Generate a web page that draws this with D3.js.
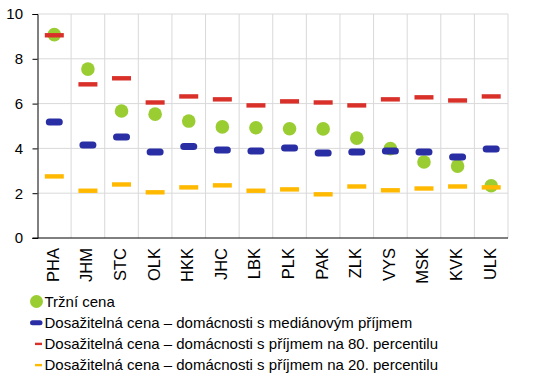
<!DOCTYPE html>
<html>
<head>
<meta charset="utf-8">
<script src="https://cdn.jsdelivr.net/npm/d3@7"></script>
<style>
  body { margin: 0; background: #fff; }
  svg { font-family: Arial, "Liberation Sans", sans-serif; }
</style>
</head>
<body>
<svg width="540" height="379"></svg>
<script>
const regions = ["PHA", "JHM", "STC", "OLK", "HKK", "JHC", "LBK", "PLK", "PAK", "ZLK", "VYS", "MSK", "KVK", "ULK"];
const marketPrice = [9.08, 7.54, 5.67, 5.53, 5.22, 4.96, 4.92, 4.88, 4.87, 4.46, 3.99, 3.39, 3.21, 2.33];
const medianIncome = [5.18, 4.15, 4.51, 3.84, 4.08, 3.93, 3.88, 4.02, 3.79, 3.84, 3.88, 3.84, 3.62, 3.97];
const p80Income = [9.05, 6.86, 7.13, 6.05, 6.32, 6.19, 5.92, 6.10, 6.05, 5.92, 6.19, 6.28, 6.14, 6.32];
const p20Income = [2.75, 2.11, 2.39, 2.04, 2.26, 2.35, 2.11, 2.17, 1.95, 2.30, 2.13, 2.21, 2.30, 2.26];
const yTicks = [0, 2, 4, 6, 8, 10];
const legendLabels = [
  "Tržní cena",
  "Dosažitelná cena – domácnosti s mediánovým příjmem",
  "Dosažitelná cena – domácnosti s příjmem na 80. percentilu",
  "Dosažitelná cena – domácnosti s příjmem na 20. percentilu"
];

const colors = { green: "#9acd32", blue: "#2a2ea5", red: "#d9302a", yellow: "#ffb900" };

const margin = { top: 14, right: 32, bottom: 141, left: 37.5 };
const width = 540, height = 379;

const svg = d3.select("svg");

const x = d3.scaleBand()
  .domain(regions)
  .range([margin.left, width - margin.right]);

const y = d3.scaleLinear()
  .domain([0, 10])
  .range([height - margin.bottom, margin.top]);

// grid
svg.append("g")
  .selectAll("line")
  .data(yTicks.filter(d => d > 0))
  .join("line")
  .attr("x1", margin.left).attr("x2", width - margin.right)
  .attr("y1", d => y(d)).attr("y2", d => y(d))
  .attr("stroke", "#d9d9d9");

svg.append("g")
  .selectAll("line")
  .data(regions)
  .join("line")
  .attr("x1", d => x(d) + x.bandwidth()).attr("x2", d => x(d) + x.bandwidth())
  .attr("y1", y(10)).attr("y2", y(0))
  .attr("stroke", "#d9d9d9");

// y axis
svg.append("g")
  .attr("transform", `translate(${margin.left},0)`)
  .call(d3.axisLeft(y).tickValues(yTicks).tickSize(5).tickPadding(9.5))
  .call(g => g.selectAll("path, line").attr("stroke", "#000"))
  .call(g => g.selectAll("text").attr("font-size", 15).attr("fill", "#000")
    .attr("font-family", "Arial, 'Liberation Sans', sans-serif"));

// x axis
svg.append("line")
  .attr("x1", margin.left - 5).attr("x2", width - margin.right)
  .attr("y1", y(0)).attr("y2", y(0))
  .attr("stroke", "#000");

svg.append("g")
  .selectAll("text")
  .data(regions)
  .join("text")
  .attr("transform", d => `translate(${x(d) + x.bandwidth() / 2 + 4.5},${y(0) + 10}) rotate(-90)`)
  .attr("text-anchor", "end")
  .attr("font-size", 16.5)
  .text(d => d);

const cx = d => x(d) + x.bandwidth() / 2;

// market price
svg.append("g")
  .selectAll("circle")
  .data(regions)
  .join("circle")
  .attr("cx", d => cx(d))
  .attr("cy", (d, i) => y(marketPrice[i]))
  .attr("r", 6.8)
  .attr("fill", colors.green);

// median
svg.append("g")
  .selectAll("rect")
  .data(regions)
  .join("rect")
  .attr("x", d => cx(d) - 8.5)
  .attr("y", (d, i) => y(medianIncome[i]) - 3.5)
  .attr("width", 17).attr("height", 7)
  .attr("rx", 3.5)
  .attr("fill", colors.blue);

// 80th & 20th percentile
[[p80Income, colors.red], [p20Income, colors.yellow]].forEach(([vals, c]) => {
  svg.append("g")
    .selectAll("rect")
    .data(regions)
    .join("rect")
    .attr("x", d => cx(d) - 9.5)
    .attr("y", (d, i) => y(vals[i]) - 2.2)
    .attr("width", 19).attr("height", 4.4)
    .attr("fill", c);
});

// legend
const legend = svg.append("g");
const rowY = i => 301.5 + i * 21.2;

legend.append("circle").attr("cx", 36.5).attr("cy", rowY(0)).attr("r", 6.5).attr("fill", colors.green);
legend.append("rect").attr("x", 30).attr("y", rowY(1) - 2.5).attr("width", 12.5).attr("height", 5)
  .attr("rx", 2.5).attr("fill", colors.blue);
legend.append("rect").attr("x", 35).attr("y", rowY(2) - 1.2).attr("width", 7).attr("height", 2.4).attr("fill", colors.red);
legend.append("rect").attr("x", 35).attr("y", rowY(3) - 1.2).attr("width", 7).attr("height", 2.4).attr("fill", colors.yellow);

legend.selectAll("text")
  .data(legendLabels)
  .join("text")
  .attr("x", 44.5)
  .attr("y", (d, i) => rowY(i))
  .attr("dy", "0.35em")
  .attr("font-size", 15)
  .text(d => d);
</script>
</body>
</html>
